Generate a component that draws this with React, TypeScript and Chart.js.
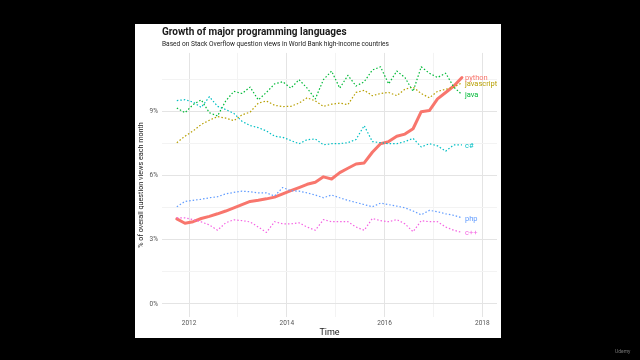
import React, { useEffect, useRef } from "react";
import { Chart, registerables } from "chart.js";

Chart.register(...registerables);

// Bi-monthly sample dates (YYYY-MM)
const months = [
  "2011-10", "2011-12", "2012-02", "2012-04", "2012-06", "2012-08",
  "2012-10", "2012-12", "2013-02", "2013-04", "2013-06", "2013-08",
  "2013-10", "2013-12", "2014-02", "2014-04", "2014-06", "2014-08",
  "2014-10", "2014-12", "2015-02", "2015-04", "2015-06", "2015-08",
  "2015-10", "2015-12", "2016-02", "2016-04", "2016-06", "2016-08",
  "2016-10", "2016-12", "2017-02", "2017-04", "2017-06", "2017-08",
];

// % of overall question views each month
const python = [
  3.98, 3.78, 3.85, 4.0, 4.1, 4.22, 4.35, 4.5, 4.65, 4.8, 4.85, 4.92,
  5.0, 5.15, 5.3, 5.45, 5.6, 5.7, 5.95, 5.85, 6.15, 6.35, 6.55, 6.6,
  7.1, 7.5, 7.6, 7.85, 7.95, 8.2, 9.0, 9.05, 9.6, 9.9, 10.2, 10.6,
];
const javascript = [
  7.55, 7.85, 8.1, 8.4, 8.6, 8.77, 8.7, 8.58, 8.85, 8.98, 9.4, 9.5,
  9.3, 9.24, 9.25, 9.4, 9.65, 9.5, 9.25, 9.35, 9.4, 9.33, 9.9, 10.0,
  9.75, 9.85, 9.9, 9.75, 10.05, 10.15, 9.85, 9.65, 9.95, 10.05, 10.15, 10.35,
];
const java = [
  9.17, 8.95, 9.33, 9.55, 8.95, 8.8, 9.5, 9.95, 9.85, 10.15, 9.55, 9.9,
  10.3, 10.4, 10.1, 10.5, 10.1, 9.6, 10.5, 10.9, 10.1, 10.7, 10.2, 10.4,
  10.95, 11.1, 10.3, 10.9, 10.6, 9.95, 11.1, 10.8, 10.6, 10.8, 10.15, 9.8,
];
const csharp = [
  9.52, 9.56, 9.45, 9.2, 9.7, 9.25, 9.1, 8.92, 8.55, 8.35, 8.25, 8.1,
  7.85, 7.8, 7.65, 7.5, 7.69, 7.72, 7.45, 7.5, 7.5, 7.55, 7.7, 8.35,
  7.6, 7.55, 7.5, 7.5, 7.6, 7.75, 7.35, 7.5, 7.4, 7.15, 7.45, 7.45,
];
const php = [
  4.55, 4.8, 4.85, 4.9, 4.97, 5.02, 5.15, 5.22, 5.28, 5.25, 5.2, 5.2,
  5.05, 5.45, 5.3, 5.28, 5.2, 5.1, 4.97, 5.1, 4.97, 4.85, 4.75, 4.65,
  4.55, 4.72, 4.65, 4.58, 4.5, 4.35, 4.17, 4.38, 4.32, 4.22, 4.15, 4.03,
];
const cpp = [
  4.03, 4.03, 3.95, 3.84, 3.7, 3.45, 3.8, 3.94, 3.9, 3.84, 3.6, 3.35,
  3.85, 3.75, 3.75, 3.8, 3.6, 3.45, 3.95, 3.85, 3.85, 3.85, 3.6, 3.45,
  4.0, 3.9, 3.85, 3.95, 3.75, 3.38, 3.9, 3.85, 3.85, 3.6, 3.45, 3.35,
];

const seriesNames = ["java", "javascript", "c#", "php", "c++", "python"];
const seriesValues = [java, javascript, csharp, php, cpp, python];
const seriesColors = ["#00BA38", "#B79F00", "#00BFC4", "#619CFF", "#F564E3", "#F8766D"];

const yTickStep = 1.5;
const xTickStep = 1;

const toYear = (m: string) => {
  const [y, mo] = m.split("-").map(Number);
  return y + (mo - 1) / 12;
};

const FONT = "Roboto";

export default function App() {
  const ref = useRef<HTMLCanvasElement | null>(null);

  useEffect(() => {
    const canvas = ref.current;
    if (!canvas) return;

    const datasets = seriesNames.map((name, k) => {
      const isPy = name === "python";
      return {
        label: name,
        data: months.map((m, i) => ({ x: toYear(m), y: seriesValues[k][i] })),
        borderColor: seriesColors[k],
        backgroundColor: seriesColors[k],
        borderWidth: isPy ? 3 : 1.2,
        borderDash: isPy ? [] : [1.5, 2],
        borderCapStyle: isPy ? "round" : "butt",
        borderJoinStyle: "round",
        pointRadius: 0,
        tension: 0,
        fill: false,
      };
    });

    const panelPlugin = {
      id: "panel",
      beforeDraw(chart: any) {
        const ctx = chart.ctx;
        ctx.save();
        ctx.fillStyle = "#000";
        ctx.fillRect(0, 0, chart.width, chart.height);
        ctx.fillStyle = "#fff";
        ctx.fillRect(135, 24, 366, 314);
        ctx.restore();
      },
      afterDatasetsDraw(chart: any) {
        const ctx = chart.ctx;
        const xs = chart.scales.x;
        const ys = chart.scales.y;
        ctx.save();
        ctx.font = `7.5px ${FONT}`;
        ctx.textAlign = "left";
        ctx.textBaseline = "middle";
        seriesNames.forEach((name, k) => {
          const vals = seriesValues[k];
          const lastX = toYear(months[months.length - 1]);
          const lastY = vals[vals.length - 1];
          ctx.fillStyle = seriesColors[k];
          ctx.fillText(name, xs.getPixelForValue(lastX) + 3, ys.getPixelForValue(lastY) + 1);
        });
        ctx.restore();
      },
      afterDraw(chart: any) {
        const ctx = chart.ctx;
        ctx.save();
        ctx.font = `5px ${FONT}`;
        ctx.fillStyle = "#777";
        ctx.textAlign = "left";
        ctx.textBaseline = "middle";
        ctx.fillText("Udemy", 615, 352);
        ctx.restore();
      },
    };

    const major = "#e4e4e4";
    const minor = "#f3f3f3";

    const chart = new Chart(canvas, {
      type: "line",
      data: { datasets: datasets as any },
      options: {
        animation: false,
        responsive: false,
        maintainAspectRatio: false,
        layout: { padding: { left: 137, right: 143, top: 26, bottom: 21 } },
        plugins: {
          legend: { display: false },
          tooltip: { enabled: false },
          title: {
            display: true,
            text: "Growth of major programming languages",
            align: "start",
            fullSize: false,
            color: "#1a1a1a",
            font: { family: FONT, size: 10, weight: "bold" },
            padding: { top: 0, bottom: 0 },
          },
          subtitle: {
            display: true,
            text: "Based on Stack Overflow question views in World Bank high-income countries",
            align: "start",
            fullSize: false,
            color: "#222",
            font: { family: FONT, size: 6.6 },
            padding: { top: 2, bottom: 5 },
          },
        },
        scales: {
          x: {
            type: "linear",
            min: 2011.447,
            max: 2018.3,
            afterFit: (s: any) => {
              s.height = 22;
            },
            border: { display: false },
            grid: {
              color: (c: any) => (c.tick && c.tick.value % 2 === 0 ? major : minor),
              drawTicks: false,
              tickLength: 0,
              lineWidth: 1,
            },
            ticks: {
              stepSize: xTickStep,
              includeBounds: false,
              autoSkip: false,
              maxRotation: 0,
              padding: 2,
              color: "#555",
              font: { family: FONT, size: 6.5 },
              callback: (v: any) => (Number(v) % 2 === 0 ? String(v) : ""),
            },
            title: {
              display: true,
              text: "Time",
              color: "#222",
              font: { family: FONT, size: 9 },
              padding: { top: 0, bottom: 1 },
            },
          },
          y: {
            type: "linear",
            min: -0.61,
            max: 11.75,
            afterFit: (s: any) => {
              s.width = 25;
            },
            border: { display: false },
            grid: {
              color: (c: any) =>
                c.tick && Math.abs(c.tick.value % 3) < 1e-6 ? major : minor,
              drawTicks: false,
              tickLength: 0,
              lineWidth: 1,
            },
            ticks: {
              stepSize: yTickStep,
              includeBounds: false,
              autoSkip: false,
              padding: 4,
              color: "#555",
              font: { family: FONT, size: 6.5 },
              callback: (v: any) => (Math.abs(Number(v) % 3) < 1e-6 ? `${v}%` : ""),
            },
            title: {
              display: true,
              text: "% of overall question views each month",
              color: "#222",
              font: { family: FONT, size: 7.2 },
              padding: 0,
            },
          },
        },
      },
      plugins: [panelPlugin],
    } as any);

    return () => chart.destroy();
  }, []);

  return (
    <div style={{ position: "fixed", left: 0, top: 0, width: 640, height: 360, background: "#000" }}>
      <canvas ref={ref} width={640} height={360} style={{ display: "block", width: 640, height: 360 }} />
    </div>
  );
}
